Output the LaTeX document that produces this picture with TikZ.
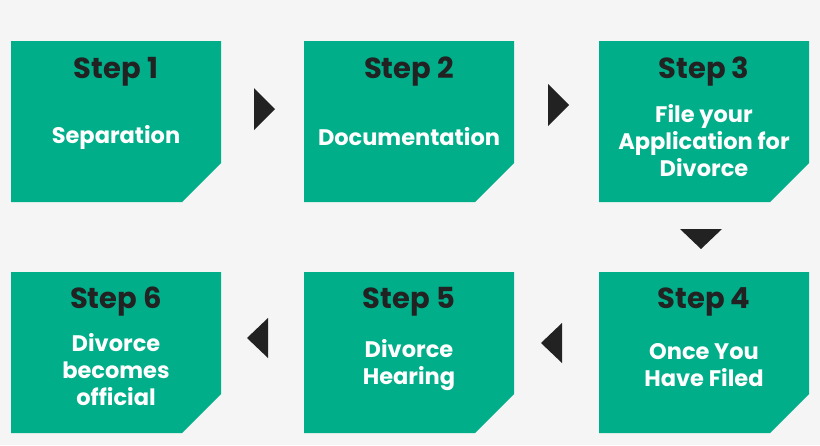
\documentclass[tikz,border=0pt]{standalone}
\usepackage{fontspec}
\setmainfont{Poppins}
\definecolor{gr}{HTML}{00AE8A}
\definecolor{bg}{HTML}{F5F5F5}
\definecolor{dk}{HTML}{222222}
\begin{document}
\begin{tikzpicture}[x=1pt,y=-1pt,
  box/.style={fill=gr,draw=none},
  tri/.style={fill=dk,draw=none},
  st/.style={font=\fontsize{29}{32}\selectfont\bfseries,text=dk,anchor=center},
  lb/.style={font=\fontsize{22.5}{27}\selectfont\bfseries,text=white,align=center,anchor=center}]
\fill[bg] (0,0) rectangle (820,445);
\useasboundingbox (0,0) rectangle (820,445);
\newcommand{\bx}[3]{\fill[box] (#1,#2) -- ++(210,0) -- ++(0,122) -- ++(-39,39) -- ++(-171,0) -- cycle;
  \coordinate (#3) at (#1+105,#2);}
\bx{11}{41}{b1}\bx{304}{41}{b2}\bx{599}{41}{b3}
\bx{11}{272}{b6}\bx{304}{272}{b5}\bx{599}{272}{b4}
\node[st] (s1) at (116,72) {Step 1};
\node[st] (s2) at (409,72) {Step 2};
\node[st] (s3) at (704,72) {Step 3};
\node[st] (s4) at (704,302) {Step 4};
\node[st] (s5) at (409,302) {Step 5};
\node[st] (s6) at (116,302) {Step 6};
\node[lb] (l1) at (116,137) {Separation};
\node[lb] (l2) at (409,137) {Documentation};
\node[lb] (l3) at (704,141) {File your\\Application for\\Divorce};
\node[lb] (l4) at (704,365) {Once You\\Have Filed};
\node[lb] (l5) at (409,365) {Divorce\\Hearing};
\node[lb] (l6) at (116,370) {Divorce\\becomes\\official};
\fill[tri] (254,88) -- (275,109) -- (254,130) -- cycle;
\fill[tri] (548,84) -- (569,105) -- (548,126) -- cycle;
\fill[tri] (680,229) -- (722,229) -- (701,249) -- cycle;
\fill[tri] (268,318) -- (247,338) -- (268,358) -- cycle;
\fill[tri] (562,323) -- (541,343) -- (562,363) -- cycle;
\end{tikzpicture}
\end{document}
